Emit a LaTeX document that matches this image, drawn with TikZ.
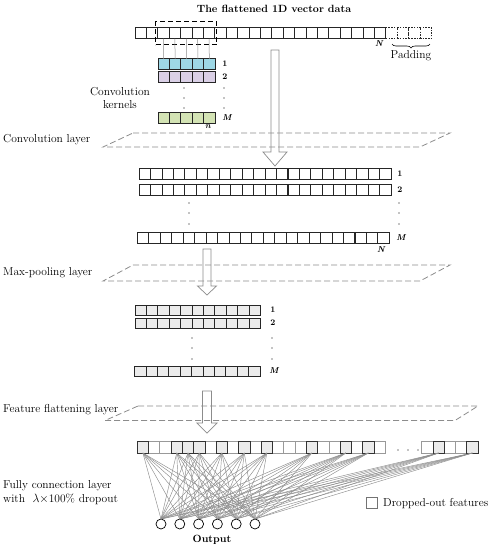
\documentclass[tikz,border=0pt]{standalone}
\usetikzlibrary{decorations.pathreplacing,fit}
\definecolor{kcyan}{HTML}{9ED8E6}
\definecolor{klav}{HTML}{DAD0E6}
\definecolor{kgreen}{HTML}{D3E3B4}
\definecolor{poolgray}{HTML}{EBEBEB}
\definecolor{linegray}{HTML}{8C8C8C}
\newcommand{\blockarr}[6]{%
  \draw[barrow] ({#1-#5},#2) -- ({#1+#5},#2) -- ({#1+#5},#3) -- ({#1+#6},#3) -- (#1,#4) -- ({#1-#6},#3) -- ({#1-#5},#3) -- cycle;}
\begin{document}
\begin{tikzpicture}[x=1pt,y=-1pt,
  font=\fontsize{11.5}{13}\selectfont,
  cell/.style={draw=black!85, line width=0.65pt, minimum width=11.4pt, minimum height=11pt, inner sep=0pt, outer sep=0pt, fill=white},
  kcell/.style={cell, minimum height=10.5pt},
  padcell/.style={cell, dash pattern=on 1.5pt off 1.2pt},
  poolcell/.style={cell, fill=poolgray, minimum height=10pt},
  keptcell/.style={cell, fill=poolgray, draw=black!80, minimum width=11.27pt, minimum height=12pt},
  dropcell/.style={cell, draw=black!40, minimum width=11.27pt, minimum height=12pt},
  outc/.style={circle, draw=black, line width=0.7pt, fill=white, minimum size=10pt, inner sep=0pt, outer sep=0pt},
  plane/.style={draw=linegray, line width=0.8pt, dash pattern=on 6pt off 3pt},
  barrow/.style={draw=linegray, line width=0.7pt, fill=white},
  fcline/.style={draw=linegray, line width=0.45pt},
  klink/.style={draw=linegray, line width=0.5pt},
  lab/.style={font=\fontsize{8.5}{9}\selectfont\bfseries, inner sep=0pt},
  labi/.style={font=\fontsize{8.5}{9}\selectfont\bfseries\itshape, inner sep=0pt},
  side/.style={anchor=west, inner sep=0pt},
  dotf/.style={fill=black}
]
\useasboundingbox (0,0) rectangle (489,550);

% ---------- title and input vector ----------
\node[font=\fontsize{10.5}{12}\selectfont\bfseries] (title) at (274,9) {The flattened 1D vector data};
\foreach \i in {0,...,21} \node[cell] (t\i) at ({140.7+11.4*\i},33) {};
\foreach \i in {0,...,3} \node[padcell] (p\i) at ({140.7+11.4*(22+\i)},33) {};
\node[labi] (tN) at (379,44) {N};
\draw[decorate, decoration={brace, mirror, amplitude=4pt}, line width=0.6pt] (392,44) -- (430,44);
\node[inner sep=0pt] (pad) at (411,56) {Padding};

% ---------- big arrow 1 (behind) ----------
\blockarr{275}{50}{152}{166}{4}{12}

% ---------- kernels ----------
\foreach \i in {0,...,4} {
  \node[kcell, fill=kcyan] (ka\i) at ({163.7+11.4*\i},64) {};
  \node[kcell, fill=klav] (kb\i) at ({163.7+11.4*\i},77) {};
  \node[kcell, fill=kgreen] (km\i) at ({163.7+11.4*\i},118) {};
}
\node[fit=(t2)(t6), inner xsep=2pt, inner ysep=6pt, draw=black, line width=0.9pt, dash pattern=on 5pt off 3pt] (win) {};
\foreach \i [evaluate=\i as \j using int(\i+2)] in {0,...,4} \draw[klink] (t\j.south) -- (ka\i.north);
\node[lab] (k1) at (225,64) {1};
\node[lab] (k2) at (225,77) {2};
\node[labi] (kM) at (227,118) {M};
\node[labi] (kn) at (208,127) {n};
\foreach \y in {88,98,108} { \fill[dotf] (184,\y) circle (0.6pt); \fill[dotf] (224,\y) circle (0.6pt); }
\node[align=center, inner sep=0pt] (kern) at (120,98.5) {Convolution\\kernels};

% ---------- convolution layer ----------
\draw[plane] (133,133) -- (450,133) -- (420,147) -- (103,147) -- cycle;
\node[side] (lconv) at (3,140) {Convolution layer};

\foreach \i in {0,...,21} {
  \node[cell] (ca\i) at ({144.7+11.45*\i},173.5) {};
  \node[cell] (cb\i) at ({144.7+11.45*\i},189.5) {};
  \node[cell] (cm\i) at ({143+11.45*\i},237.5) {};
}
\node[lab] (c1) at (400,174) {1};
\node[lab] (c2) at (400,190) {2};
\node[labi] (cM) at (401,238) {M};
\node[labi] (cN) at (381,250) {N};
\foreach \y in {203,213,224} { \fill[dotf] (189,\y) circle (0.6pt); \fill[dotf] (399,\y) circle (0.6pt); }

% ---------- max pooling ----------
\blockarr{207}{249}{286}{295}{4}{9.5}
\draw[plane] (133,265) -- (450,265) -- (420,281) -- (103,281) -- cycle;
\node[side] (lpool) at (3,273) {Max-pooling layer};
\foreach \i in {0,...,10} {
  \node[poolcell] (pa\i) at ({140.7+11.4*\i},310) {};
  \node[poolcell] (pb\i) at ({140.7+11.4*\i},323) {};
  \node[poolcell] (pm\i) at ({140.2+11.4*\i},371) {};
}
\node[lab] (p1) at (273,310) {1};
\node[lab] (p2) at (273,323) {2};
\node[labi] (pM) at (274,371) {M};
\foreach \y in {338,348,359} { \fill[dotf] (192,\y) circle (0.6pt); \fill[dotf] (272,\y) circle (0.6pt); }

% ---------- feature flattening ----------
\blockarr{207}{391}{423}{433}{4.5}{10}
\draw[plane] (138,406) -- (478,406) -- (455,420.5) -- (105,420.5) -- cycle;
\node[side] (lflat) at (3,410) {Feature flattening layer};

\foreach \i in {0,...,21} \node[dropcell] (f\i) at ({142.9+11.27*\i},447) {};
\foreach \i in {0,...,4} \node[dropcell] (g\i) at ({427.3+11.27*\i},447) {};
\foreach \i in {0,3,4,5,7,9,11,15,18,20} \node[keptcell] (f\i) at ({142.9+11.27*\i},447) {};
\foreach \i in {1,4} \node[keptcell] (g\i) at ({427.3+11.27*\i},447) {};
\foreach \x in {398,408,418} \fill[dotf] (\x,450) circle (0.6pt);

% ---------- output ----------
\foreach \j in {1,...,6} \node[outc] (o\j) at ({161+18.8*(\j-1)},524) {};
\foreach \k in {0,3,4,5,7,9,11,15,18,20} \foreach \j in {1,...,6} \draw[fcline] (f\k.south) -- (o\j.north);
\foreach \k in {1,4} \foreach \j in {1,...,6} \draw[fcline] (g\k.south) -- (o\j.north);
\node[font=\fontsize{10.5}{12}\selectfont\bfseries] (outl) at (212,540) {Output};

\node[side] (lfc1) at (3,486) {Fully connection layer};
\node[side] (lfc2) at (3,499.5) {with \ $\lambda\times$100\% dropout};

\node[dropcell, minimum width=10.5pt, minimum height=10.5pt, draw=black!55] (leg) at (372,503) {};
\node[side] (legt) at (383,503.5) {Dropped-out features};
\end{tikzpicture}
\end{document}
